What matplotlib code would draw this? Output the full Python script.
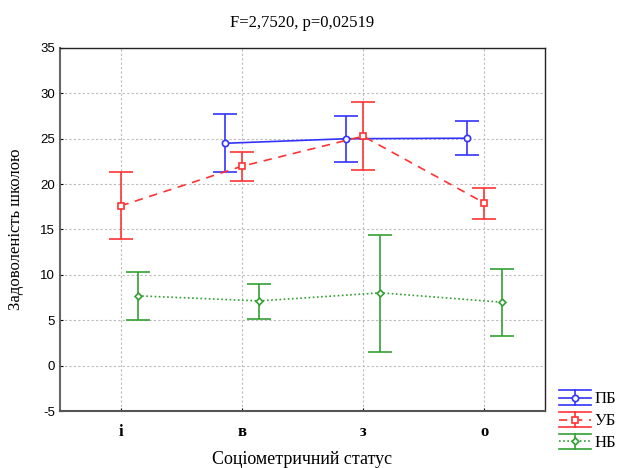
import matplotlib
matplotlib.use("Agg")
import matplotlib.pyplot as plt
from matplotlib.legend_handler import HandlerBase
from matplotlib.lines import Line2D
import numpy as np

categories = ["і", "в", "з", "о"]
series_names = ["ПБ", "УБ", "НБ"]

pb_x = [1, 2, 3]
pb_mean = [24.5, 25.0, 25.06]
pb_low = [21.3, 22.4, 23.2]
pb_high = [27.7, 27.55, 26.97]

ub_x = [0, 1, 2, 3]
ub_mean = [17.6, 21.97, 25.28, 17.92]
ub_low = [13.95, 20.38, 21.6, 16.19]
ub_high = [21.38, 23.52, 29.04, 19.54]

nb_x = [0, 1, 2, 3]
nb_mean = [7.69, 7.13, 8.02, 6.99]
nb_low = [5.04, 5.15, 1.50, 3.24]
nb_high = [10.3, 8.98, 14.39, 10.63]

yticks = list(range(-5, 36, 5))

fig = plt.figure(figsize=(6.22, 4.68), dpi=100)
ax = fig.add_axes([60/622, 1-411/468, (545-60)/622, (411-48)/468])

styles = [
    ("#3333ff", "-", "o", 4.5),
    ("#ff3333", (0, (5, 4)), "s", 4.5),
    ("#33a033", (0, (1, 1.5)), "D", 3.5),
]

def draw(xs, m, lo, hi, offset, style, label):
    color, ls, marker, ms = style
    xs = np.array(xs, dtype=float) + offset
    m = np.array(m); lo = np.array(lo); hi = np.array(hi)
    yerr = [m - lo, hi - m]
    return ax.errorbar(xs, m, yerr=yerr, color=color, ls=ls, lw=1.2,
                       marker=marker, ms=ms, mfc="white", mec=color, mew=1.2,
                       capsize=8.5, capthick=1.2, elinewidth=1.2, label=label)

draw(pb_x, pb_mean, pb_low, pb_high, -0.143, styles[0], series_names[0])
draw(ub_x, ub_mean, ub_low, ub_high, 0.0, styles[1], series_names[1])
draw(nb_x, nb_mean, nb_low, nb_high, 0.143, styles[2], series_names[2])


class EBHandler(HandlerBase):
    def create_artists(self, legend, orig_handle, xdescent, ydescent, width,
                       height, fontsize, trans):
        color, ls, marker, ms = orig_handle.style
        y0 = height / 2 - ydescent
        d = 5.5
        x0 = -xdescent
        x1 = width - xdescent
        xc = (x0 + x1) / 2
        arts = [
            Line2D([x0, x1], [y0 + d, y0 + d], color=color, lw=1.2),
            Line2D([x0, x1], [y0 - d, y0 - d], color=color, lw=1.2),
            Line2D([xc, xc], [y0 - d, y0 + d], color=color, lw=1.2),
            Line2D([x0, x1], [y0, y0], color=color, lw=1.2, ls=ls),
            Line2D([xc], [y0], marker=marker, ms=ms, mfc="white", mec=color, mew=1.2, ls="none"),
        ]
        for a in arts:
            a.set_transform(trans)
        return arts


class Proxy:
    def __init__(self, style):
        self.style = style


proxies = [Proxy(s) for s in styles]

ax.set_xlim(-0.5, 3.5)
ax.set_ylim(-5, 35)
ax.set_xticks(range(len(categories)))
ax.set_xticklabels(categories, fontfamily="Liberation Serif", fontweight="bold", fontsize=12)
ax.set_yticks(yticks)
ax.set_yticklabels([str(v) for v in yticks], fontfamily="Liberation Sans", fontsize=9.5)
ax.tick_params(direction="in", length=2, width=0.8)
ax.tick_params(axis="x", pad=9)
ax.grid(True, color="#bbbbbb", ls=(0, (2, 2)), lw=0.8)
ax.set_axisbelow(True)
for s in ax.spines.values():
    s.set_color("#222222")
    s.set_linewidth(1.0)
ax.spines["left"].set_color("#666666")
ax.spines["left"].set_linewidth(1.5)
ax.spines["bottom"].set_color("#555555")
ax.spines["bottom"].set_linewidth(1.5)

ax.set_title("F=2,7520, p=0,02519", fontfamily="Liberation Serif", fontsize=12, pad=15)
ax.set_xlabel("Соціометричний статус", fontfamily="Liberation Serif", fontsize=13, labelpad=8)
ax.set_ylabel("Задоволеність школою", fontfamily="Liberation Serif", fontsize=12, labelpad=12)

fig.legend(handles=proxies, labels=series_names, loc="lower left",
           handler_map={Proxy: EBHandler()},
           bbox_to_anchor=(559/622, 1-451/468), frameon=False,
           prop={"family": "Liberation Serif", "size": 12},
           handlelength=1.9, handleheight=1.2, handletextpad=0.25,
           labelspacing=0.22, borderpad=0, borderaxespad=0)

fig.savefig("out.png", dpi=100)
